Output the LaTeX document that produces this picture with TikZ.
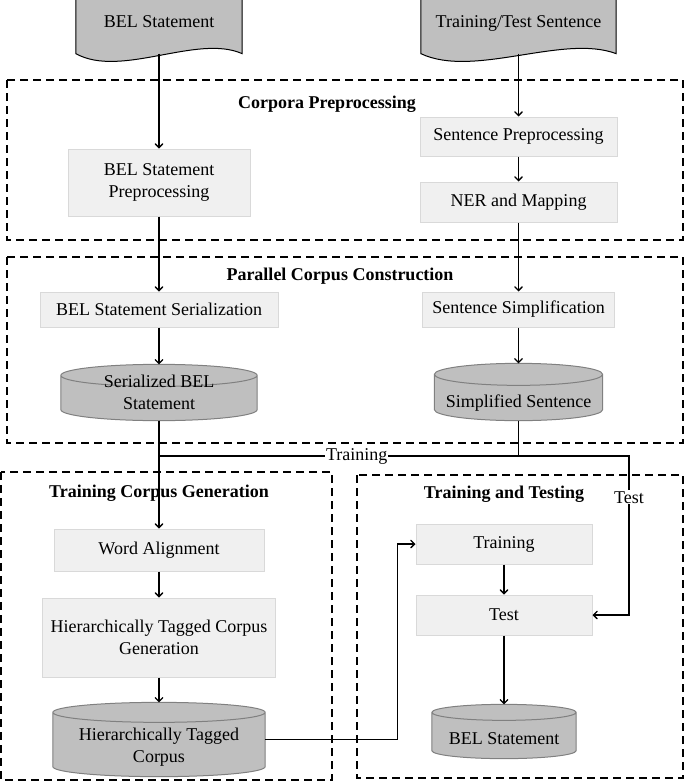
\documentclass[tikz,border=0pt]{standalone}
\usepackage{fontspec}
\setmainfont{Liberation Serif}
\usetikzlibrary{arrows,calc,backgrounds}

\begin{document}
\begin{tikzpicture}[x=1pt,y=1pt,font=\fontsize{18}{22}\selectfont,
    line width=1.3pt,>=angle 90,
    grp/.style={dash pattern=on 8pt off 5pt},
    title/.style={font=\fontsize{18}{22}\selectfont\bfseries},
    proc/.style={draw=gray!30,fill=gray!12,line width=1pt,inner sep=0,align=center},
    doc/.style={inner sep=0,minimum width=#1,minimum height=53,text depth=9pt},
    docfill/.style={draw=black,fill=gray!50,line width=1pt},
    db/.style={inner sep=0,align=center},
    dbfill/.style={draw=gray,fill=gray!50,line width=1pt},
    lbl/.style={fill=white,inner sep=1pt}]
    \useasboundingbox (0,0) rectangle (685,-782);

    % inputs
    \node[doc=165] (docbel) at (159,-26.5) {BEL Statement};
    \node[doc=194] (docsent) at (518.5,-26.5) {Training/Test Sentence};

    % corpora preprocessing
    \draw[grp] (7,-80) rectangle (683,-240);
    \node[title] (tcorp) at (327,-104) {Corpora Preprocessing};
    \node[proc,minimum width=182,minimum height=67] (belpre) at (159,-182.5) {BEL Statement\\Preprocessing};
    \node[proc,minimum width=197,minimum height=39] (sentpre) at (518.5,-136.5) {Sentence Preprocessing};
    \node[proc,minimum width=197,minimum height=40] (ner) at (518.5,-202) {NER and Mapping};

    % parallel corpus construction
    \draw[grp] (7,-257) rectangle (683,-443);
    \node[title] (tpar) at (340,-276) {Parallel Corpus Construction};
    \node[proc,minimum width=238,minimum height=35] (belser) at (159,-309.5) {BEL Statement Serialization};
    \node[proc,minimum width=192,minimum height=35] (sentsim) at (518.5,-309.5) {Sentence Simplification};
    \node[db,minimum width=195,minimum height=55] (sbel) at (159,-392.5) {Serialized BEL\\Statement};
    \node[db,minimum width=167,minimum height=56,text height=34pt] (ssim) at (518.5,-392) {Simplified Sentence};

    % training corpus generation
    \draw[grp] (1,-472) rectangle (332,-780);
    \node[title] (ttcg) at (159,-493) {Training Corpus Generation};
    \node[proc,minimum width=210,minimum height=42] (wordal) at (159,-550) {Word Alignment};
    \node[proc,minimum width=233,minimum height=79] (htcg) at (159,-637.5) {Hierarchically Tagged Corpus\\Generation};
    \node[db,minimum width=211,minimum height=73,text height=50pt] (htc) at (159,-739.5) {Hierarchically Tagged\\Corpus};

    % training and testing
    \draw[grp] (357,-475) rectangle (683,-778);
    \node[title] (ttt) at (504,-494) {Training and Testing};
    \node[proc,minimum width=176,minimum height=40] (training) at (504,-544) {Training};
    \node[proc,minimum width=176,minimum height=40] (test) at (504,-615) {Test};
    \node[db,minimum width=143,minimum height=53,text height=27pt] (belout) at (504,-731.5) {BEL Statement};

    \begin{scope}[on background layer]
        \foreach \d/\c in {docbel/45,docsent/53}
            \draw[docfill] (\d.north west) -- (\d.north east) -- (\d.south east)
                .. controls +(-\c,20) and +(\c,-25) .. (\d.south west) -- cycle;
        \foreach \c/\r in {sbel/11pt,ssim/11pt,htc/10pt,belout/8pt}
            \draw[dbfill] let \p1=(\c.north west), \p2=(\c.south east), \n1={(\x2-\x1)/2} in
                (\x1,\y1-\r) -- (\x1,\y2+\r) arc[start angle=180,end angle=360,x radius=\n1,y radius=\r]
                -- (\x2,\y1-\r) arc[start angle=0,end angle=180,x radius=\n1,y radius=\r] -- cycle
                (\x1,\y1-\r) arc[start angle=180,end angle=360,x radius=\n1,y radius=\r];
    \end{scope}

    \coordinate (split) at (518.5,-456);
    \coordinate (merge) at (159,-456);
    \coordinate (testturn) at (629,-456);

    \draw[->] (docbel.south) -- (belpre.north);
    \draw[->] (docsent.south) -- (sentpre.north);
    \draw[->] (sentpre) -- (ner);
    \draw[->] (belpre) -- (belser);
    \draw[->] (ner) -- (sentsim);
    \draw[->] (belser) -- (sbel.north);
    \draw[->] (sentsim) -- (ssim.north);
    \draw[->] (sbel.south) -- (wordal.north);
    \draw (ssim.south) -- (split);
    \draw (split) -- node[lbl,pos=.45] (lbltrain) {Training} (merge);
    \draw[->] (split) -- (testturn) |- node[lbl,pos=.13] (lbltest) {Test} (test.east);
    \draw[->] (wordal) -- (htcg);
    \draw[->] (htcg) -- (htc.north);
    \draw[->] (htc.east) -| ([xshift=-18pt]training.west) -- (training.west);
    \draw[->] (training) -- (test);
    \draw[->] (test) -- (belout.north);
\end{tikzpicture}
\end{document}
